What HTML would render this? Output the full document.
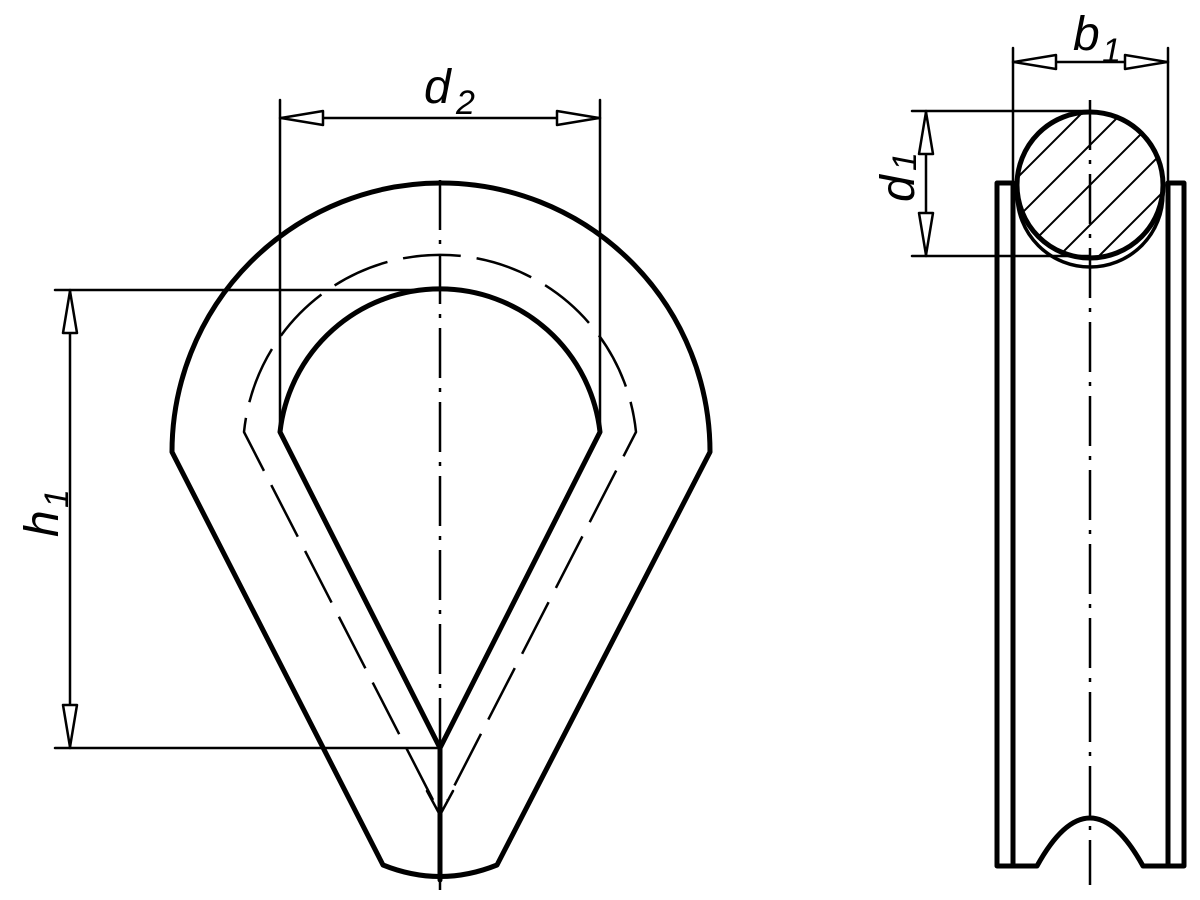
<!DOCTYPE html>
<html><head><meta charset="utf-8"><style>html,body{margin:0;padding:0;background:#fff}svg{display:block}</style></head>
<body>
<svg width="1200" height="900" viewBox="0 0 1200 900" xmlns="http://www.w3.org/2000/svg">
<rect width="1200" height="900" fill="#fff"/>
<defs>
<clipPath id="cc"><circle cx="1090" cy="185" r="72"/></clipPath>
</defs>
<g fill="none" stroke="#000" stroke-linejoin="round" stroke-linecap="round">
<!-- Left view outer -->
<path d="M383,865 L172,452 A269,269 0 0 1 710,452 L497,865 Q440,888 383,865 Z" stroke-width="5"/>
<!-- inner -->
<path d="M440,748 L280,432 A161,161 0 0 1 600,432 Z" stroke-width="5"/>
<line x1="440" y1="748" x2="440" y2="880" stroke-width="5"/>
<!-- dashed middle -->
<path d="M433,800 L244,432 A197,197 0 0 1 636,432 L447,800" stroke-width="2.5" stroke-dasharray="58,16" stroke-linecap="butt"/>
<path d="M427,791 L440,815 L453,791" stroke-width="2.5"/>
<!-- center line -->
<line x1="440" y1="180" x2="440" y2="890" stroke-width="2.5" stroke-dasharray="50,10,4,10" stroke-linecap="butt"/>
<!-- d2 dimension -->
<line x1="280" y1="100" x2="280" y2="432" stroke-width="2.5"/>
<line x1="600" y1="100" x2="600" y2="432" stroke-width="2.5"/>
<line x1="280" y1="118" x2="600" y2="118" stroke-width="2.5"/>
<path d="M281,118 L323,111 L323,125 Z" stroke-width="2.5" fill="#fff"/>
<path d="M599,118 L557,111 L557,125 Z" stroke-width="2.5" fill="#fff"/>
<!-- h1 dimension -->
<line x1="55" y1="290" x2="440" y2="290" stroke-width="2.5"/>
<line x1="55" y1="748" x2="440" y2="748" stroke-width="2.5"/>
<line x1="70" y1="290" x2="70" y2="748" stroke-width="2.5"/>
<path d="M70,291 L63,333 L77,333 Z" stroke-width="2.5" fill="#fff"/>
<path d="M70,747 L63,705 L77,705 Z" stroke-width="2.5" fill="#fff"/>

<!-- Right view -->
<path d="M1013,866 L997,866 L997,183 L1013,183" stroke-width="5"/>
<path d="M1168,866 L1184,866 L1184,183 L1168,183" stroke-width="5"/>
<line x1="1013" y1="183" x2="1013" y2="866" stroke-width="5"/>
<line x1="1168" y1="183" x2="1168" y2="866" stroke-width="5"/>
<path d="M1013,866 L1037,866 Q1090,770 1143,866 L1168,866" stroke-width="5"/>
<!-- circle hatch -->
<g clip-path="url(#cc)" stroke-width="2">
<line x1="1000" y1="155" x2="1160" y2="-5"/>
<line x1="1000" y1="195" x2="1200" y2="-5"/>
<line x1="1000" y1="235" x2="1200" y2="35"/>
<line x1="1000" y1="275" x2="1200" y2="75"/>
<line x1="1000" y1="315" x2="1200" y2="115"/>
<line x1="1000" y1="355" x2="1200" y2="155"/>
<line x1="1000" y1="395" x2="1200" y2="195"/>
</g>
<circle cx="1090" cy="185" r="73" stroke-width="5"/>
<path d="M1017,194 A73,73 0 0 0 1163,194" stroke-width="3.5"/>
<line x1="1090" y1="100" x2="1090" y2="885" stroke-width="2.5" stroke-dasharray="50,10,4,10" stroke-linecap="butt"/>
<!-- b1 -->
<line x1="1013" y1="48" x2="1013" y2="183" stroke-width="2.5"/>
<line x1="1168" y1="48" x2="1168" y2="183" stroke-width="2.5"/>
<line x1="1013" y1="62" x2="1168" y2="62" stroke-width="2.5"/>
<path d="M1014,62 L1056,55 L1056,69 Z" stroke-width="2.5" fill="#fff"/>
<path d="M1167,62 L1125,55 L1125,69 Z" stroke-width="2.5" fill="#fff"/>
<!-- d1 -->
<line x1="912" y1="111" x2="1090" y2="111" stroke-width="2.5"/>
<line x1="912" y1="256" x2="1090" y2="256" stroke-width="2.5"/>
<line x1="926" y1="111" x2="926" y2="256" stroke-width="2.5"/>
<path d="M926,112 L919,154 L933,154 Z" stroke-width="2.5" fill="#fff"/>
<path d="M926,255 L919,213 L933,213 Z" stroke-width="2.5" fill="#fff"/>
</g>
<g font-family="'Liberation Sans',sans-serif" font-style="italic" fill="#000">
<text x="424" y="103" font-size="48">d</text>
<text x="456" y="114" font-size="34">2</text>
<text x="1073" y="50" font-size="48">b</text>
<text x="1102" y="62" font-size="34">1</text>
<text transform="translate(58,537) rotate(-90)" font-size="48">h</text>
<text transform="translate(68,508) rotate(-90)" font-size="34">1</text>
<text transform="translate(914,202) rotate(-90)" font-size="48">d</text>
<text transform="translate(916,171) rotate(-90)" font-size="34">1</text>
</g>
</svg>
</body></html>
